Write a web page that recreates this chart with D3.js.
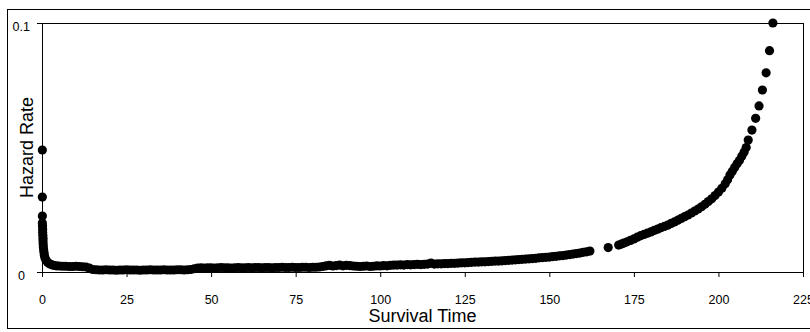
<!DOCTYPE html>
<html>
<head>
<meta charset="utf-8">
<script src="https://cdn.jsdelivr.net/npm/d3@7"></script>
<style>
  body { margin: 0; background: #fff; }
  svg { display: block; font-family: "Liberation Sans", Arial, sans-serif; }
</style>
</head>
<body>
<svg id="chart" width="810" height="332"></svg>
<script>
// [survival time, hazard rate], split by stretch of the curve
const earlyPoints = [
  [0.1, 0.0490], [0.1, 0.0301], [0.1, 0.0225], [0.1, 0.0197], [0.15, 0.0185], [0.2, 0.0172],
  [0.2, 0.0160], [0.25, 0.0148], [0.3, 0.0136], [0.3, 0.0124], [0.35, 0.0112], [0.4, 0.0100],
  [0.5, 0.0088], [0.6, 0.0077], [0.7, 0.0066], [0.9, 0.0056], [1.2, 0.0047], [1.6, 0.0040],
  [2.1, 0.0034], [2.7, 0.0030], [3.4, 0.0027], [4.2, 0.0025], [5, 0.0024], [6, 0.0023],
  [7, 0.0023], [8, 0.0022], [9, 0.0022], [10, 0.0023], [11, 0.0022], [12, 0.0021],
  [13, 0.0020], [14, 0.0016], [15, 0.0010]
];
const lowPoints = [
  [16, 0.0009], [17, 0.0008], [18, 0.0008], [19, 0.0009], [20, 0.0008], [21, 0.0008],
  [22, 0.0007], [23, 0.0008], [24, 0.0008], [25, 0.0009], [26, 0.0008], [27, 0.0008],
  [28, 0.0008], [29, 0.0007], [30, 0.0008], [31, 0.0008], [32, 0.0009], [33, 0.0008],
  [34, 0.0008], [35, 0.0008], [36, 0.0009], [37, 0.0008], [38, 0.0008], [39, 0.0008],
  [40, 0.0009], [41, 0.0009], [42, 0.0008], [43, 0.0009], [44, 0.0010], [45, 0.0013],
  [46, 0.0016], [47, 0.0017], [48, 0.0016], [49, 0.0017], [50, 0.0017], [51, 0.0016],
  [52, 0.0017], [53, 0.0018], [54, 0.0017], [55, 0.0017], [56, 0.0016], [57, 0.0017],
  [58, 0.0018], [59, 0.0017], [60, 0.0017], [61, 0.0018], [62, 0.0017], [63, 0.0018],
  [64, 0.0018], [65, 0.0017], [66, 0.0018], [67, 0.0018], [68, 0.0017], [69, 0.0018],
  [70, 0.0018], [71, 0.0019], [72, 0.0018], [73, 0.0018], [74, 0.0019], [75, 0.0018],
  [76, 0.0018], [77, 0.0019], [78, 0.0019], [79, 0.0018], [80, 0.0019], [81, 0.0019],
  [82, 0.0020], [83, 0.0022]
];
const midPoints = [
  [84, 0.0025], [85, 0.0027], [86, 0.0024], [87, 0.0026], [88, 0.0028], [89, 0.0025],
  [90, 0.0027], [91, 0.0026], [92, 0.0024], [93, 0.0023], [94, 0.0022], [95, 0.0023],
  [96, 0.0024], [97, 0.0022], [98, 0.0023], [99, 0.0025], [100, 0.0024], [101, 0.0026],
  [102, 0.0025], [103, 0.0027], [104, 0.0028], [105, 0.0028], [106, 0.0029], [107, 0.0028],
  [108, 0.0030], [109, 0.0029], [110, 0.0030], [111, 0.0031], [112, 0.0030], [113, 0.0031],
  [114, 0.0032], [115, 0.0036], [116, 0.0032], [117, 0.0033], [118, 0.0033], [119, 0.0034],
  [120, 0.0034], [121, 0.0035], [122, 0.0035], [123, 0.0036], [124, 0.0037], [125, 0.0037],
  [126, 0.0038], [127, 0.0039], [128, 0.0040], [129, 0.0040], [130, 0.0041], [131, 0.0041],
  [132, 0.0042], [133, 0.0043], [134, 0.0044], [135, 0.0044], [136, 0.0045], [137, 0.0046],
  [138, 0.0047], [139, 0.0048], [140, 0.0049], [141, 0.0050], [142, 0.0051], [143, 0.0052],
  [144, 0.0053], [145, 0.0054], [146, 0.0055], [147, 0.0057], [148, 0.0058], [149, 0.0059],
  [150, 0.0060], [151, 0.0062], [152, 0.0063], [153, 0.0065], [154, 0.0066], [155, 0.0068],
  [156, 0.0070], [157, 0.0072], [158, 0.0074], [159, 0.0076], [160, 0.0079], [161, 0.0081],
  [162, 0.0084], [167.4, 0.0098]
];
const latePoints = [
  [170.5, 0.0108], [171.3, 0.0112], [172, 0.0116], [173, 0.0121], [174, 0.0127], [175, 0.0133],
  [176, 0.0140], [177, 0.0146], [178, 0.0151], [179, 0.0156], [180, 0.0161], [181, 0.0167],
  [182, 0.0172], [183, 0.0178], [184, 0.0183], [185, 0.0188], [186, 0.0195], [187, 0.0201],
  [188, 0.0208], [189, 0.0215], [190, 0.0222], [191, 0.0229], [192, 0.0237], [193, 0.0245],
  [194, 0.0253], [195, 0.0262], [196, 0.0272], [197, 0.0283], [198, 0.0294], [199, 0.0307],
  [200, 0.0321], [201, 0.0336], [202, 0.0354], [202.7, 0.0370], [203.4, 0.0390], [204.1, 0.0405],
  [204.8, 0.0420], [205.5, 0.0435], [206.2, 0.0448], [206.9, 0.0465], [207.6, 0.0482], [208.2, 0.0500],
  [208.8, 0.0530], [209.9, 0.0570], [211.0, 0.0617], [212.0, 0.0667], [213.0, 0.0731], [214.1, 0.0800],
  [215.1, 0.0889], [216.1, 0.1000]
];

const xTicks = [0, 25, 50, 75, 100, 125, 150, 175, 200, 225];
const yTicks = [0, 0.1];

const points = earlyPoints.concat(lowPoints, midPoints, latePoints);

const svg = d3.select("#chart");
const plot = { left: 42, top: 23, right: 803, bottom: 272 };

const x = d3.scaleLinear().domain([0, 225]).range([plot.left, plot.right]);
const y = d3.scaleLinear().domain([0, 0.1]).range([plot.bottom, plot.top]);

// outer chart border (runs off the right edge like the reference)
svg.append("rect")
  .attr("x", 7.5).attr("y", 9.5)
  .attr("width", 820).attr("height", 319)
  .attr("fill", "none").attr("stroke", "#000");

// plot area frame
svg.append("rect")
  .attr("x", plot.left + 0.5).attr("y", plot.top + 0.5)
  .attr("width", plot.right - plot.left).attr("height", plot.bottom - plot.top)
  .attr("fill", "none").attr("stroke", "#000");

const xAxis = svg.append("g")
  .attr("transform", `translate(0,${plot.bottom})`)
  .call(d3.axisBottom(x).tickValues(xTicks).tickSize(5).tickSizeOuter(0).tickPadding(18));

const yAxis = svg.append("g")
  .attr("transform", `translate(${plot.left},0)`)
  .call(d3.axisLeft(y).tickValues(yTicks).tickSize(5).tickSizeOuter(0).tickPadding(7)
    .tickFormat(d => String(d)));

[xAxis, yAxis].forEach(g => {
  g.selectAll("path, line").attr("stroke", "#000");
  g.selectAll("text").attr("fill", "#000").style("font-size", "12.5px");
  g.attr("font-family", null);
});
yAxis.selectAll("text")
  .attr("y", 3)
  .attr("dx", d => d === 0 ? -5 : 0);

svg.append("g")
  .selectAll("circle")
  .data(points)
  .join("circle")
  .attr("cx", d => x(d[0]))
  .attr("cy", d => y(d[1]))
  .attr("r", 4.6)
  .attr("fill", "#000");

svg.append("text")
  .attr("x", (plot.left + plot.right) / 2)
  .attr("y", 322)
  .attr("text-anchor", "middle")
  .style("font-size", "18px")
  .text("Survival Time");

svg.append("text")
  .attr("transform", `translate(33,${(plot.top + plot.bottom) / 2}) rotate(-90)`)
  .attr("text-anchor", "middle")
  .style("font-size", "18px")
  .text("Hazard Rate");
</script>
</body>
</html>
